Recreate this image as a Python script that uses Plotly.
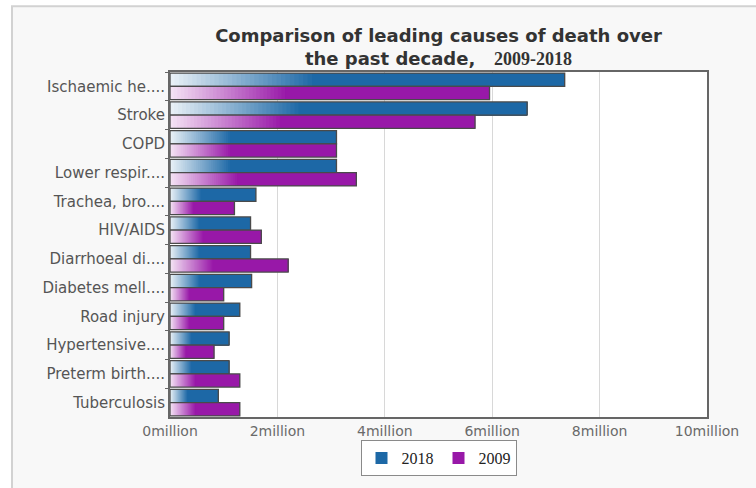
import plotly.graph_objects as go

categories = ["Ischaemic he....", "Stroke", "COPD", "Lower respir....", "Trachea, bro....",
              "HIV/AIDS", "Diarrhoeal di....", "Diabetes mell....", "Road injury",
              "Hypertensive....", "Preterm birth....", "Tuberculosis"]
deaths_2018 = [7.35, 6.65, 3.1, 3.1, 1.6, 1.5, 1.5, 1.52, 1.3, 1.1, 1.1, 0.9]
deaths_2009 = [5.95, 5.68, 3.1, 3.47, 1.2, 1.7, 2.2, 1.0, 1.0, 0.82, 1.3, 1.3]
tick_vals = [0, 2, 4, 6, 8, 10]
tick_text = ["0million", "2million", "4million", "6million", "8million", "10million"]

series = [("2018", deaths_2018, (232, 240, 246), (29, 104, 166)),
          ("2009", deaths_2009, (244, 226, 244), (152, 24, 168))]

N = 32
FRAC = 0.36
fig = go.Figure()
for name, vals, c0, c1 in series:
    for k in range(N + 1):
        t = min(k / N, 1.0)
        col = "rgb(%d,%d,%d)" % tuple(int(round(a + (b - a) * t)) for a, b in zip(c0, c1))
        bases = [v * FRAC * k / N for v in vals]
        last = k == N
        fig.add_trace(go.Bar(
            y=categories, x=[v - b for v, b in zip(vals, bases)], base=bases,
            orientation="h", offsetgroup=name, marker=dict(color=col, line=dict(width=0)),
            name=name, legendgroup=name, showlegend=last, hoverinfo="skip"))
    fig.add_trace(go.Bar(
        y=categories, x=vals, orientation="h", offsetgroup=name, legendgroup=name,
        showlegend=False, hoverinfo="skip",
        marker=dict(color="rgba(0,0,0,0)", line=dict(color="#4a4a4a", width=1.3))))

W, H = 756, 488
ml, mr, mt, mb = 170, 49, 72, 64
pw, ph = W - ml - mr, H - mt - mb

def px_x(p):
    return (p - ml) / pw

def px_y(p):
    return (H - mb - p) / ph

fig.update_layout(
    width=W, height=H,
    margin=dict(l=ml, r=mr, t=mt, b=mb),
    paper_bgcolor="white", plot_bgcolor="white",
    barmode="group", bargap=0.08, bargroupgap=0.0,
    title=dict(text="<b>Comparison of leading causes of death over<br>the past decade,   "
                    "<span style='font-family:Liberation Serif'>2009-2018</span></b>",
               x=0.5, xref="paper", xanchor="center",
               y=(H - 42) / H, yref="container", yanchor="middle",
               font=dict(family="DejaVu Sans", size=18, color="#333333")),
    legend=dict(orientation="h", x=0.5, xanchor="center", y=px_y(466), yanchor="middle",
                bgcolor="white", bordercolor="#8a8a8a", borderwidth=1,
                font=dict(family="Liberation Serif", size=16, color="#222222"),
                traceorder="normal", itemwidth=30),
    shapes=[
        dict(type="rect", xref="paper", yref="paper", layer="below",
             x0=px_x(12), x1=px_x(W + 10), y0=px_y(H + 10), y1=px_y(5),
             fillcolor="#f8f8f8", line=dict(color="#d2d2d2", width=2)),
        dict(type="rect", xref="paper", yref="paper", layer="below",
             x0=0, x1=1, y0=0, y1=1, fillcolor="white", line=dict(width=0)),
    ],
)
fig.update_xaxes(range=[0, 10], tickvals=tick_vals, ticktext=tick_text,
                 showgrid=True, gridcolor="#d8d8d8", gridwidth=1, zeroline=False,
                 showline=True, linecolor="#666666", linewidth=2, mirror=True,
                 ticks="", tickfont=dict(family="DejaVu Sans", size=14, color="#6a6a6a"))
fig.update_yaxes(autorange="reversed", showgrid=False, zeroline=False,
                 showline=True, linecolor="#666666", linewidth=2, mirror=True,
                 ticks="outside", ticklen=3, tickcolor="#666666", tickson="boundaries",
                 tickfont=dict(family="DejaVu Sans", size=15, color="#555555"))

fig.write_html("out.html")
